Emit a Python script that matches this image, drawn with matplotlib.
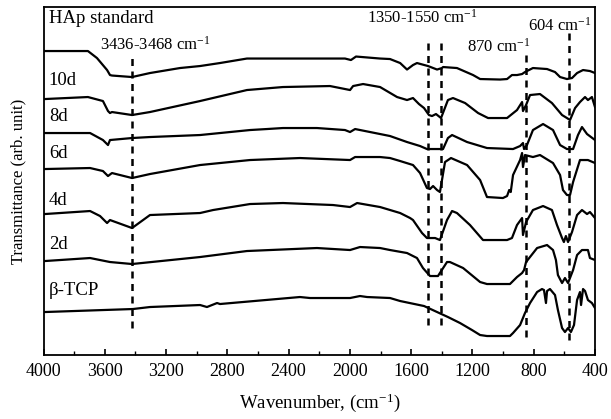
import matplotlib
matplotlib.use("Agg")
import matplotlib.pyplot as plt
from matplotlib.ticker import MultipleLocator

plt.rcParams['font.family'] = ['Liberation Serif', 'DejaVu Serif']
plt.rcParams['mathtext.default'] = 'regular'

# ---- data (wavenumber, transmittance in arbitrary units) ----
hap_wn = [3990, 3710, 3651, 3585, 3566, 3553, 3422, 3305, 3109, 2978, 2848, 2672, 2456, 2260,
          2032, 1993, 1960, 1803, 1738, 1672, 1627, 1588, 1562, 1490, 1431, 1399, 1392, 1301,
          1196, 1150, 1020, 974, 942, 909, 876, 857, 805, 713, 661, 628, 583, 550, 517, 478,
          433, 400]
hap_t = [309, 309, 302, 290, 285, 284.5, 283, 287, 292, 294, 297, 301.5, 301.5, 301.5,
         301.5, 300, 303.5, 301.5, 301, 297, 290.5, 295, 297, 294, 290.5, 292, 293, 292,
         285, 281, 280.5, 281, 285, 285, 286, 288, 292, 291, 288, 283, 281, 282, 287, 290,
         289, 287]

d10_wn = [3990, 3710, 3612, 3579, 3566, 3553, 3422, 3305, 2978, 2672, 2437, 2130, 2064, 1999,
          1979, 1914, 1803, 1692, 1627, 1588, 1549, 1516, 1484, 1464, 1438, 1405, 1360, 1327,
          1248, 1163, 1098, 974, 909, 876, 870, 850, 824, 759, 681, 615, 583, 563, 530, 498,
          465, 446, 420, 400]
d10_t = [261, 263, 259, 249, 247, 248, 245, 248, 259, 270, 273, 274, 272, 270,
         274, 276, 273, 263, 260, 262, 256, 252, 245, 244, 246, 242, 260, 262,
         257, 247, 242, 242, 250, 258, 249, 255, 265, 266, 257, 245, 242, 240, 252, 258,
         263, 260, 263, 253]

d8_wn = [3990, 3696, 3612, 3579, 3566, 3422, 3305, 2978, 2652, 2541, 2437, 2215, 2032, 1999,
         1966, 1803, 1738, 1627, 1542, 1497, 1392, 1360, 1333, 1235, 1105, 935, 889, 870,
         863, 844, 805, 739, 674, 628, 583, 543, 511, 485, 452, 400]
d8_t = [227, 227, 220, 215, 220, 222, 223, 225, 230, 231, 232, 232, 230, 228,
        231, 226, 224, 218, 214, 211, 211, 222, 225, 218, 212, 211, 214, 217,
        211, 215, 230, 236, 230, 215, 211, 211, 225, 233, 226, 220]

d6_wn = [3990, 3696, 3612, 3579, 3553, 3422, 3305, 2978, 2652, 2326, 1999, 1966, 1803, 1738,
         1672, 1588, 1542, 1497, 1477, 1457, 1431, 1412, 1379, 1340, 1235, 1150, 1105, 1001,
         974, 960, 950, 935, 889, 876, 870, 857, 805, 759, 674, 628, 609, 583, 563, 543,
         498, 446, 400]
d6_t = [191, 192, 189, 184, 187, 182, 186, 195, 200, 202, 200, 203, 203, 202,
        199, 195, 187, 172, 171, 174, 170, 168, 198, 202, 195, 180, 163, 162,
        164, 170, 168, 185, 200, 207, 193, 205, 203, 205, 197, 185, 170, 165, 165, 178,
        200, 200, 197]

d4_wn = [3990, 3696, 3631, 3585, 3566, 3422, 3305, 2978, 2893, 2652, 2437, 2110, 1999, 1953,
         1803, 1672, 1607, 1588, 1529, 1497, 1444, 1412, 1366, 1333, 1301, 1216, 1131, 974,
         942, 909, 876, 870, 850, 805, 739, 681, 648, 615, 603, 590, 576, 550, 517, 485,
         452, 433, 400]
d4_t = [146, 149, 144, 137, 140, 132, 145, 147, 150, 156, 157, 155, 153, 157,
        153, 147, 142, 140, 127, 122, 122, 120, 140, 149, 147, 135, 120, 120,
        122, 135, 142, 125, 138, 150, 154, 150, 135, 122, 118, 124, 118, 128, 145, 150,
        146, 148, 142]

d2_wn = [3990, 3696, 3566, 3422, 2978, 2672, 2215, 1999, 1934, 1803, 1738, 1627, 1562, 1523,
         1477, 1425, 1366, 1347, 1261, 1150, 1105, 955, 909, 876, 863, 850, 778, 713, 674,
         655, 642, 615, 596, 576, 543, 517, 485, 446, 433, 400]
d2_t = [99, 102, 98, 96, 103, 109, 112, 110, 113, 112, 110, 107, 102, 92,
        84, 84, 98, 98, 92, 78, 76, 76, 83, 87, 90, 98, 112, 115, 110,
        100, 85, 77, 82, 77, 90, 105, 110, 110, 102, 100]

tcp_wn = [3990, 3416, 3305, 2978, 2933, 2867, 2848, 2326, 2260, 1999, 1934, 1888, 1738, 1672,
          1516, 1360, 1281, 1203, 1150, 1105, 955, 935, 889, 857, 824, 778, 746, 733, 720,
          713, 694, 661, 642, 615, 596, 576, 557, 537, 517, 498, 491, 478, 465, 446, 420, 400]
tcp_t = [48, 51, 53, 55, 53, 57, 56, 63, 62, 62, 64, 63, 62, 59,
         54, 43, 37, 30, 25, 24, 24, 27, 35, 47, 57, 68, 71, 70, 57,
         69, 71, 65, 50, 32, 28, 32, 28, 35, 60, 68, 55, 71, 69, 60, 57, 52]

series = [(hap_wn, hap_t), (d10_wn, d10_t), (d8_wn, d8_t), (d6_wn, d6_t),
          (d4_wn, d4_t), (d2_wn, d2_t), (tcp_wn, tcp_t)]
curve_labels = ["HAp standard", "10d", "8d", "6d", "4d", "2d", "\u03b2-TCP"]
label_t = [342, 280, 244, 207, 160, 116, 70]

# marker lines: position and vertical extent
vline_x = [3425, 1492, 1405, 852, 572]
vline_lo = [32, 35, 35, 23, 20]
vline_hi = [302, 318, 318, 305, 328]

band_texts = ["3436-3468 cm$^{-1}$", "1350-1550 cm$^{-1}$", "870 cm$^{-1}$", "604 cm$^{-1}$"]
band_x = [3631, 1889, 1235, 837]
band_t = [315, 342, 313, 334]

xticks = [4000, 3600, 3200, 2800, 2400, 2000, 1600, 1200, 800, 400]

# ---- figure ----
fig = plt.figure(figsize=(6.11, 4.19), dpi=100)
ax = fig.add_axes([0.0712, 0.1527, 0.9026, 0.8305])

for wn, t in series:
    ax.plot(wn, t, color='black', lw=1.6, solid_joinstyle='round')

for x, lo, hi in zip(vline_x, vline_lo, vline_hi):
    ax.plot([x, x], [lo, hi], color='black', lw=1.8, linestyle=(0, (2.8, 2.2)))

for lab, t in zip(curve_labels, label_t):
    ax.text(3965, t, lab, fontsize=13.5, va='center', ha='left')

for txt, x, t in zip(band_texts, band_x, band_t):
    ax.text(x, t, txt, fontsize=12, va='center', ha='left')

ax.set_xlim(4000, 400)
ax.set_ylim(5, 353)
ax.set_xticks(xticks)
ax.xaxis.set_minor_locator(MultipleLocator(200))
ax.set_yticks([])
ax.tick_params(axis='x', which='major', direction='in', length=4, width=1.2,
               labelsize=13, pad=6, top=False)
ax.tick_params(axis='x', which='minor', direction='in', length=3, width=1.0, top=False)
for s in ax.spines.values():
    s.set_linewidth(1.3)

ax.set_xlabel("Wavenumber, (cm$^{-1}$)", fontsize=13.5, labelpad=8)
ax.set_ylabel("Transmittance (arb. unit)", fontsize=12, labelpad=12)

fig.savefig("out.png", dpi=100)
